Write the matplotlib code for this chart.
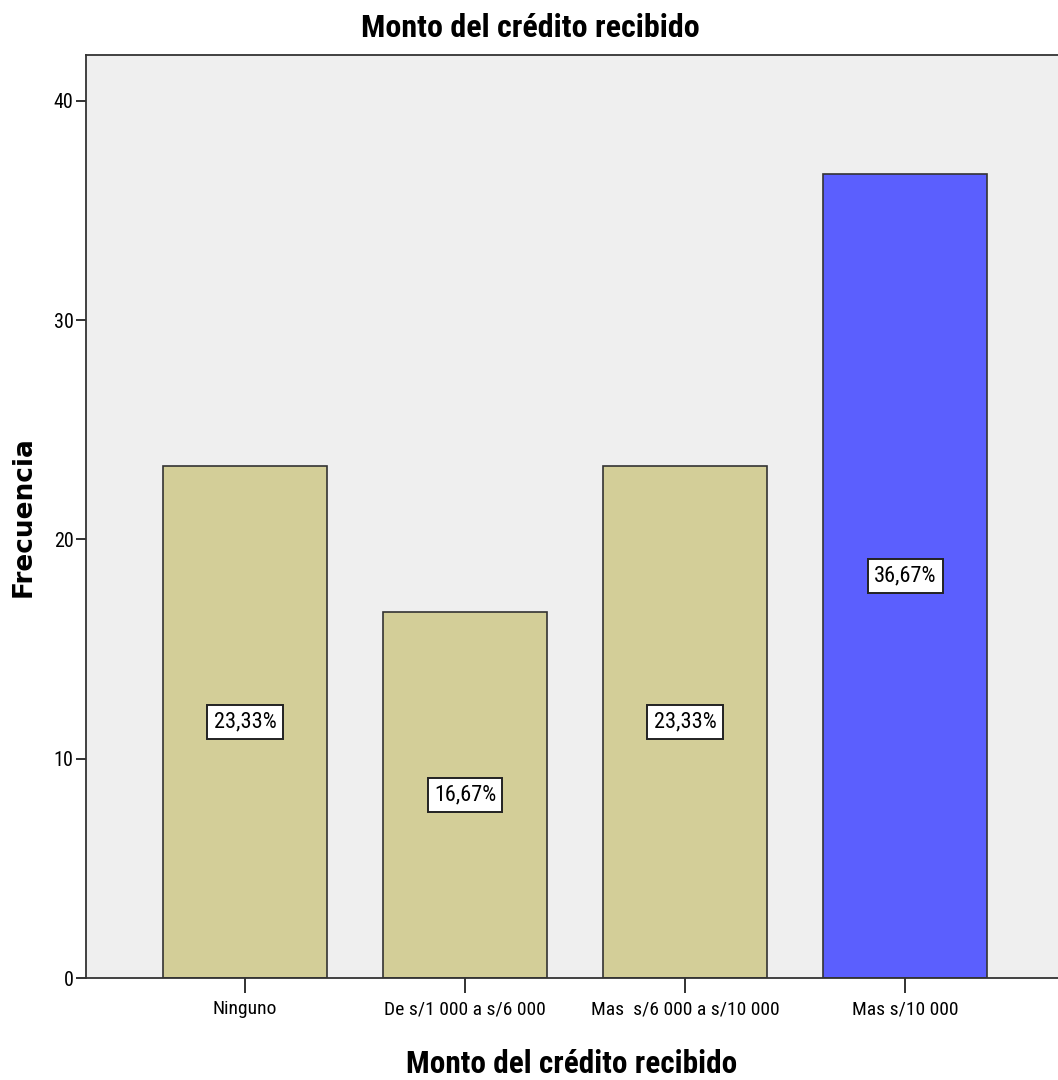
import matplotlib
matplotlib.use('Agg')
import matplotlib.pyplot as plt

# Data: percentages per category (n = 30)
categories = ['Ninguno', 'De s/1 000 a s/6 000', 'Mas  s/6 000 a s/10 000', 'Mas s/10 000']
percent = [23.33, 16.67, 23.33, 36.67]
bar_labels = ['23,33%', '16,67%', '23,33%', '36,67%']
bar_colors = ['#d3ce98', '#d3ce98', '#d3ce98', '#5b5ffe']
y_ticks = [0, 10, 20, 30, 40]

narrow = ['Roboto Condensed', 'Liberation Sans']

fig = plt.figure(figsize=(10.58, 10.80), dpi=100)
ax = fig.add_axes([86 / 1058, 1 - 978 / 1080, 1 - 86 / 1058, (978 - 55) / 1080])
ax.set_facecolor('#efefef')

x = list(range(len(categories)))
ax.bar(x, percent, width=0.745, color=bar_colors, edgecolor='#333333', linewidth=1.2, zorder=2)

# percentage labels in white boxes at half bar height
for i, (v, lab) in enumerate(zip(percent, bar_labels)):
    ax.text(i, v / 2, lab, ha='center', va='center', fontsize=16, family=narrow,
            bbox=dict(boxstyle='square,pad=0.28', facecolor='white', edgecolor='#222222', linewidth=1.4),
            zorder=3)

ax.set_xlim(-0.723, 3.695)
ax.set_ylim(0, 42.09)
ax.set_yticks(y_ticks)
ax.set_xticks(x)
ax.set_xticklabels(categories, family=narrow, fontsize=14)
for t in ax.get_yticklabels():
    t.set_family(narrow)
    t.set_fontsize(14.5)
ax.tick_params(axis='y', length=7, width=1.3, color='#222222', pad=2)
ax.tick_params(axis='x', length=11, width=1.3, color='#222222', pad=5)

for side in ['left', 'bottom', 'top']:
    ax.spines[side].set_linewidth(1.3)
    ax.spines[side].set_color('#333333')
ax.spines['right'].set_visible(False)

ax.set_xlabel('Monto del crédito recibido', family=narrow, fontweight='bold', fontsize=22.5, labelpad=22)
ax.set_ylabel('Frecuencia', family='DejaVu Sans', fontweight='bold', fontsize=19, labelpad=12)
fig.text(530 / 1058, 1 - 28 / 1080, 'Monto del crédito recibido', family=narrow, fontweight='bold',
         fontsize=23, ha='center', va='center')

fig.savefig('out.png', dpi=100)
